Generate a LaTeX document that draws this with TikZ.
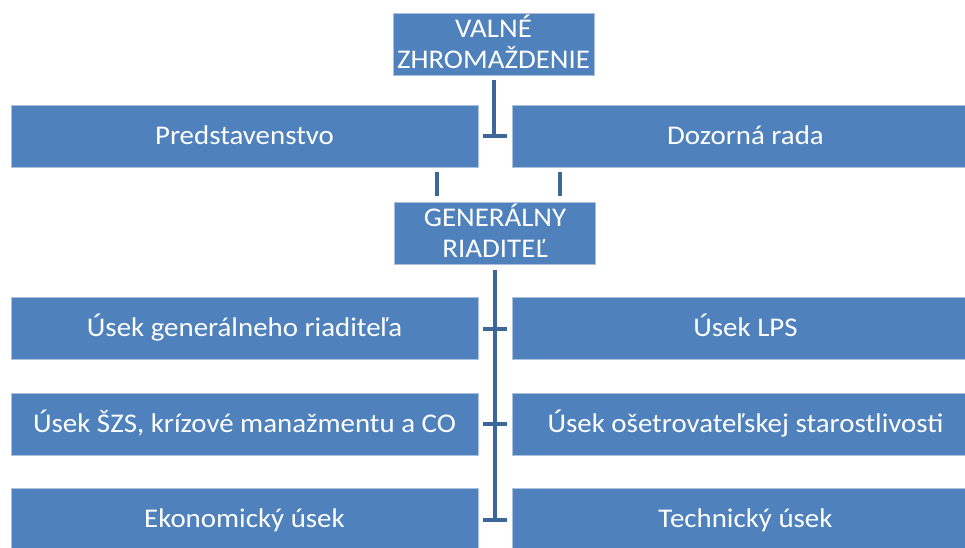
\documentclass[tikz,border=0pt]{standalone}
\usepackage{fontspec}
\setmainfont[FakeStretch=1.07]{Carlito}
\definecolor{boxblue}{RGB}{79,129,189}
\definecolor{boxedge}{RGB}{170,192,222}
\definecolor{linkblue}{RGB}{62,102,152}
\begin{document}
\begin{tikzpicture}[x=1pt,y=-1pt,
  box/.style={rectangle, fill=boxblue, draw=boxedge, line width=0.8pt,
    text=white, font=\fontsize{27}{31}\selectfont, align=center, inner sep=0pt,
    minimum height=62pt, text height=17pt, text depth=1pt},
  wide/.style={box, minimum width=467pt},
  small/.style={box, minimum width=201pt, text height=50pt, text depth=2pt},
  link/.style={draw=linkblue, line width=4.5pt},
  bar/.style={draw=linkblue, line width=4pt}]
\useasboundingbox (0,0) rectangle (965,547);
\clip (0,0) rectangle (965,547);
% boxes
\node[small] (vz) at (493.5,44) {VALNÉ\\ZHROMAŽDENIE};
\node[wide] (pred) at (244.5,136) {Predstavenstvo};
\node[wide] (doz) at (745.5,136) {Dozorná rada};
\node[small] (gr) at (495,233) {GENERÁLNY\\RIADITEĽ};
\node[wide] (l1) at (244.5,328) {Úsek generálneho riaditeľa};
\node[wide] (r1) at (745.5,328) {Úsek LPS};
\node[wide] (l2) at (244.5,424) {Úsek ŠZS, krízové manažmentu a CO};
\node[wide] (r2) at (745.5,424) {Úsek ošetrovateľskej starostlivosti};
\node[wide] (l3) at (244.5,519) {Ekonomický úsek};
\node[wide] (r3) at (745.5,519) {Technický úsek};
% connector from Valné zhromaždenie
\coordinate (t0) at (494,136);
\draw[link] ([yshift=-5pt]vz.south -| t0) -- (t0);
\draw[bar] (483,136) -- (507,136);
% ticks between upper boxes and Generálny riaditeľ
\draw[bar] (437,172) -- (437,196);
\draw[bar] (560,172) -- (560,196);
% connector from Generálny riaditeľ
\coordinate (t3) at (495,520);
\draw[link] ([yshift=-6pt]gr.south -| t3) -- (t3);
\draw[bar] (483,329) -- (507,329);
\draw[bar] (483,424) -- (507,424);
\draw[bar] (483,520) -- (507,520);
\end{tikzpicture}
\end{document}
